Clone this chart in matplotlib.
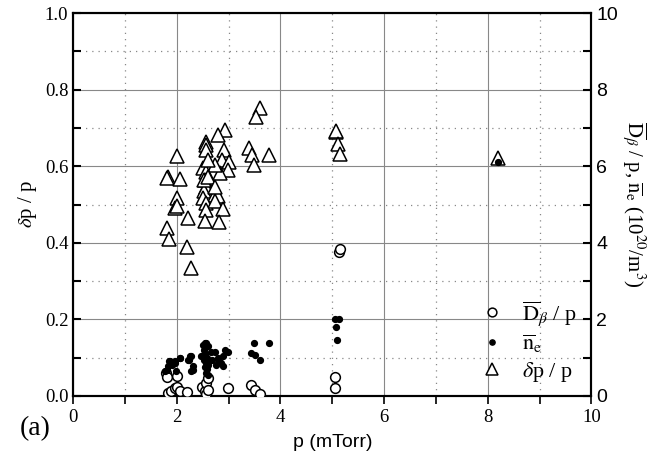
import numpy as np
import matplotlib.pyplot as plt
from matplotlib.ticker import MultipleLocator

plt.rcParams['font.family'] = ['Liberation Serif', 'DejaVu Serif']
plt.rcParams['mathtext.fontset'] = 'stix'

# delta p / p (left axis)
tri_p = [3.60, 3.52, 2.92, 2.80, 3.39, 3.45, 3.78, 3.49, 2.00, 2.57, 2.57, 2.56, 2.90, 2.88,
         3.01, 2.99, 2.84, 2.73, 2.51, 2.56, 2.60, 1.83, 1.80, 2.06, 2.54, 2.57, 2.52, 2.73,
         2.80, 2.51, 2.57, 2.73, 2.00, 1.96, 2.00, 2.89, 2.56, 2.22, 2.54, 2.81, 1.80, 1.85,
         2.20, 2.28, 2.52, 2.60, 2.73, 5.07, 5.08, 5.11, 5.15, 8.20]
tri_v = [0.753, 0.728, 0.695, 0.682, 0.647, 0.630, 0.630, 0.603, 0.628, 0.664, 0.656, 0.643,
         0.643, 0.617, 0.610, 0.589, 0.582, 0.603, 0.595, 0.586, 0.617, 0.573, 0.570, 0.567,
         0.564, 0.547, 0.534, 0.525, 0.521, 0.516, 0.503, 0.508, 0.516, 0.492, 0.495, 0.489,
         0.486, 0.464, 0.458, 0.455, 0.438, 0.409, 0.389, 0.334, 0.564, 0.573, 0.547, 0.689,
         0.692, 0.658, 0.632, 0.622]

# n_e (10^20/m^3, right axis)
ne_p = [1.77, 1.80, 1.83, 1.85, 1.86, 1.90, 1.96, 1.96, 1.99, 2.06, 2.07, 2.22, 2.23, 2.26,
        2.28, 2.28, 2.31, 2.31, 2.47, 2.51, 2.54, 2.56, 2.57, 2.60, 2.52, 2.55, 2.58, 2.53,
        2.56, 2.60, 2.54, 2.58, 2.56, 2.60, 2.62, 2.65, 2.68, 2.73, 2.76, 2.80, 2.82, 2.85,
        2.89, 2.89, 2.93, 2.99, 3.44, 3.49, 3.50, 3.60, 3.78, 5.05, 5.12, 5.08, 5.10, 8.20]
ne_v = [0.64, 0.69, 0.77, 0.90, 0.90, 0.81, 0.85, 0.90, 0.64, 0.99, 0.98, 0.94, 0.94, 1.03,
        1.03, 0.64, 0.77, 0.68, 1.03, 1.33, 1.38, 1.38, 1.33, 1.30, 1.20, 1.10, 1.00, 0.95,
        0.85, 0.80, 0.75, 0.70, 0.60, 0.55, 0.90, 1.15, 0.95, 1.16, 0.81, 1.00, 0.90, 0.85,
        1.03, 0.77, 1.20, 1.16, 1.11, 1.38, 1.07, 0.94, 1.38, 2.00, 2.00, 1.80, 1.45, 6.10]

# D_beta / p (right axis)
d_p = [1.79, 1.80, 1.83, 1.89, 1.96, 2.00, 2.00, 2.06, 2.20, 2.49, 2.54, 2.57, 2.57, 2.60,
       2.60, 2.99, 3.44, 3.50, 3.60, 5.05, 5.05, 5.12, 5.15]
d_v = [0.59, 0.50, 0.08, 0.12, 0.21, 0.52, 0.24, 0.12, 0.09, 0.24, 0.12, 0.05, 0.33, 0.46,
       0.15, 0.21, 0.29, 0.16, 0.05, 0.50, 0.20, 3.75, 3.85]

fig = plt.figure(figsize=(6.72, 4.68), dpi=100)
ax = fig.add_axes([0.109, 0.154, 0.771, 0.818])
ax2 = ax.twinx()

ax.set_xlim(0, 10)
ax.set_ylim(0, 1.0)
ax2.set_ylim(0, 10)

ax.xaxis.set_major_locator(MultipleLocator(2))
ax.xaxis.set_minor_locator(MultipleLocator(1))
ax.yaxis.set_major_locator(MultipleLocator(0.2))
ax.yaxis.set_minor_locator(MultipleLocator(0.1))
ax2.yaxis.set_major_locator(MultipleLocator(2))
ax2.yaxis.set_minor_locator(MultipleLocator(1))

ax.grid(True, which='major', color='#888888', lw=0.8, ls='-')
ax.grid(True, which='minor', color='#888888', lw=0.9, ls=(0, (1, 4)))
ax.set_axisbelow(True)

ax.tick_params(axis='x', which='both', direction='out', length=6, width=1.2, labelsize=13.5)
ax.tick_params(axis='y', which='both', direction='in', length=6, width=1.5, labelsize=13.5)
ax2.tick_params(axis='y', which='both', direction='in', length=6, width=1.5, labelsize=14,
                labelfontfamily='Liberation Sans')
ax.yaxis.set_major_formatter(plt.FuncFormatter(lambda v, _: f'{v:.1f}'))

for a in (ax, ax2):
    for s in a.spines.values():
        s.set_linewidth(1.5)

h1, = ax2.plot(d_p, d_v, 'o', ms=7, mfc='white', mec='black', mew=1.1, ls='none', zorder=3,
               label=r'$\overline{\mathrm{D}}_\beta$ / p')
h2, = ax2.plot(ne_p, ne_v, 'o', ms=4.2, color='black', ls='none', zorder=4,
               label=r'$\overline{\mathrm{n}}_\mathrm{e}$')
h3, = ax.plot(tri_p, tri_v, '^', ms=9.5, mfc='white', mec='black', mew=1.1, ls='none', zorder=3,
              label=r'$\delta$p / p')

ax2.legend(handles=[h1, h2, h3], loc='lower right', bbox_to_anchor=(1.01, -0.02),
           frameon=False, fontsize=16, handletextpad=0.6, labelspacing=0.2,
           markerscale=0.9, handlelength=1.5)

ax.set_xlabel('p (mTorr)', family='Liberation Sans', fontsize=14, labelpad=6)
ax.set_ylabel(r'$\delta$p / p', fontsize=15, labelpad=4)
ax2.set_ylabel(r'$\overline{\mathrm{D}}_\beta$ / p, $\overline{\mathrm{n}}_\mathrm{e}$ (10$^{20}$/m$^3$)',
               fontsize=15, rotation=270, labelpad=22)
fig.text(0.03, 0.07, '(a)', fontsize=20)

fig.savefig('out.png', dpi=100)
